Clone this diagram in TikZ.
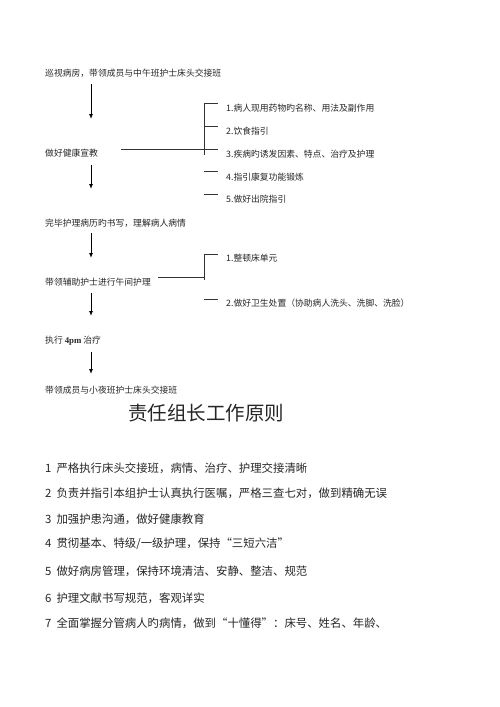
\documentclass[tikz,border=0pt]{standalone}
\usepackage{fontspec}
\setmainfont{Liberation Serif}
\newfontfamily\cjk{Noto Sans CJK SC}
\usetikzlibrary{arrows.meta}
\begin{document}
\begin{tikzpicture}[x=1pt,y=-1pt,
  small/.style={anchor=west,inner sep=0pt,font=\cjk\fontsize{8.8pt}{10pt}\selectfont,text=black!85},
  listtxt/.style={anchor=west,inner sep=0pt,font=\cjk\fontsize{11.4pt}{13pt}\selectfont,text=black!85},
  titletxt/.style={anchor=center,inner sep=0pt,font=\cjk\fontsize{19.5pt}{22pt}\selectfont,text=black!85},
  arr/.style={line width=0.9pt,-{Latex[length=5pt,width=4pt]}},
  br/.style={line width=0.6pt,black!80}]
\useasboundingbox (0,0) rectangle (500,707);

% flow texts
\node[small] (f1) at (45,73) {巡视病房，带领成员与中午班护士床头交接班};
\node[small] (f2) at (45,153) {做好健康宣教};
\node[small] (f3) at (45,223) {完毕护理病历旳书写，理解病人病情};
\node[small] (f4) at (45,282) {带领辅助护士进行午间护理};
\node[small] (f5) at (45,341) {执行 {\rmfamily\bfseries 4pm} 治疗};
\node[small] (f6) at (45,390) {带领成员与小夜班护士床头交接班};

% arrows
\coordinate (a1s) at (91,84);  \coordinate (a1e) at (91,119);
\coordinate (a2s) at (91,165); \coordinate (a2e) at (91,189);
\coordinate (a3s) at (91,233); \coordinate (a3e) at (91,258);
\coordinate (a4s) at (91,293); \coordinate (a4e) at (91,316);
\coordinate (a5s) at (91,352); \coordinate (a5e) at (91,374);
\draw[arr] (a1s) -- (a1e);
\draw[arr] (a2s) -- (a2e);
\draw[arr] (a3s) -- (a3e);
\draw[arr] (a4s) -- (a4e);
\draw[arr] (a5s) -- (a5e);

% branch 1
\node[small] (b1) at (226,108) {1.病人现用药物旳名称、用法及副作用};
\node[small] (b2) at (226,131) {2.饮食指引};
\node[small] (b3) at (226,154) {3.疾病旳诱发因素、特点、治疗及护理};
\node[small] (b4) at (226,177) {4.指引康复功能锻炼};
\node[small] (b5) at (226,199) {5.做好出院指引};
\draw[br] (121,149) -- (218,149);
\draw[br] (204,103) -- (204,155);
\draw[br] (204,103) -- (218,103);
\draw[br] (204,126) -- (218,126);
\draw[br] (204,171) -- (218,171);
\draw[br] (204,194) -- (218,194);

% branch 2
\node[small] (c1) at (226,258) {1.整顿床单元};
\node[small] (c2) at (226,303) {2.做好卫生处置（协助病人洗头、洗脚、洗脸）};
\draw[br] (158,277) -- (204,277);
\draw[br] (204,254) -- (204,280);
\draw[br] (204,254) -- (218,254);
\draw[br] (204,299) -- (218,299);

% title
\node[titletxt] (title) at (206,413) {责任组长工作原则};

% list
\node[listtxt] (l1) at (45,468) {1\hspace{5pt}严格执行床头交接班，病情、治疗、护理交接清晰};
\node[listtxt] (l2) at (45,493) {2\hspace{5pt}负责并指引本组护士认真执行医嘱，严格三查七对，做到精确无误};
\node[listtxt] (l3) at (45,519) {3\hspace{5pt}加强护患沟通，做好健康教育};
\node[listtxt] (l4) at (45,544) {4\hspace{5pt}贯彻基本、特级/一级护理，保持“三短六洁”};
\node[listtxt] (l5) at (45,571) {5\hspace{5pt}做好病房管理，保持环境清洁、安静、整洁、规范};
\node[listtxt] (l6) at (45,598) {6\hspace{5pt}护理文献书写规范，客观详实};
\node[listtxt] (l7) at (45,623) {7\hspace{5pt}全面掌握分管病人旳病情，做到“十懂得”：床号、姓名、年龄、};
\end{tikzpicture}
\end{document}
